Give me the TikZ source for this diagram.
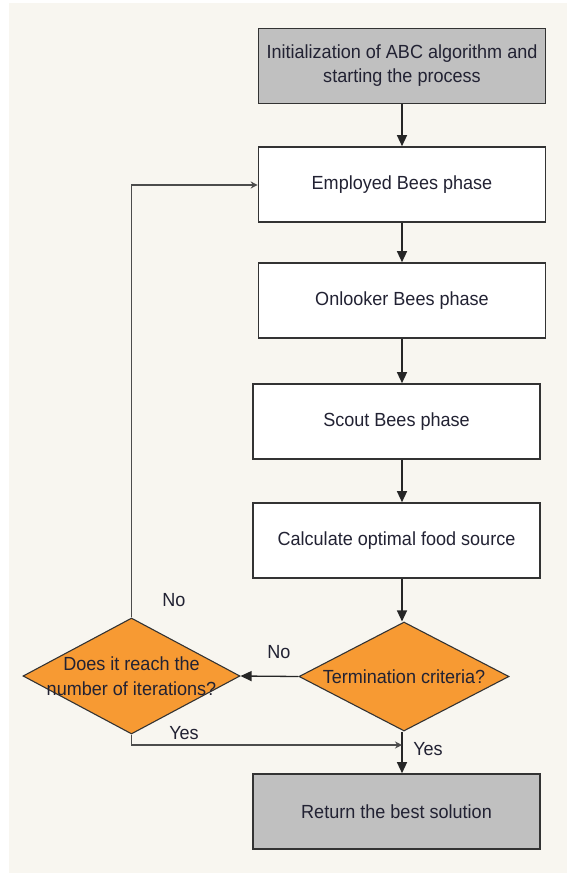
\documentclass[tikz,border=0pt]{standalone}
\usepackage{fontspec}
\setmainfont[FakeStretch=0.95]{Liberation Sans}
\usetikzlibrary{arrows.meta,shapes.geometric}
\definecolor{bgcream}{HTML}{F8F6F0}
\definecolor{boxgray}{HTML}{C0C0C0}
\definecolor{decorange}{HTML}{F79A33}
\definecolor{txtcol}{HTML}{222233}
\definecolor{edgecol}{HTML}{333333}
\tikzset{
  procbox/.style={draw=edgecol, line width=1.6pt, minimum width=287pt, minimum height=75pt, inner sep=0pt, font=\fontsize{19}{24}\selectfont, text=txtcol, align=center},
  graybox/.style={procbox, fill=boxgray},
  whitebox/.style={procbox, fill=white},
  decshape/.style={diamond, draw=edgecol, line width=1.1pt, fill=decorange, inner sep=0pt, minimum width=#1},
  dectext/.style={font=\fontsize{19}{25}\selectfont, text=txtcol, align=center, inner sep=0pt},
  flow/.style={draw=black!85, line width=1.3pt, -{Triangle[width=10pt,length=11pt]}},
  flowsmall/.style={draw=black!70, line width=1.3pt, -{Stealth[width=7pt,length=7pt]}},
  lbl/.style={font=\fontsize{19}{22}\selectfont, text=txtcol, inner sep=0pt}
}
\begin{document}
\begin{tikzpicture}[x=1pt,y=-1pt]
\useasboundingbox (0,0) rectangle (567,874);
\fill[white] (0,0) rectangle (567,874);
\fill[bgcream] (9,3) rectangle (567,873);

\node[graybox] (init) at (402,66) {Initialization of ABC algorithm and\\starting the process};
\node[whitebox] (emp) at (402,184.5) {Employed Bees phase};
\node[whitebox] (onl) at (402,300.5) {Onlooker Bees phase};
\node[whitebox] (sco) at (396.5,421.5) {Scout Bees phase};
\node[whitebox] (calc) at (396.5,540.5) {Calculate optimal food source};

\node[decshape=210pt, minimum height=109pt] (term) at (404,676.5) {};
\node[dectext] (termt) at (404,676.5) {Termination criteria?};
\node[decshape=217pt, minimum height=116pt] (ld) at (131.5,676) {};
\node[dectext] (ldt) at (131.5,676) {Does it reach the\\number of iterations?};

\node[graybox] (ret) at (396.5,811.5) {Return the best solution};

\coordinate (colx) at (402,0);
\coordinate (j) at (402,745);
\coordinate (loopc) at (131.5,185);

\draw[flow] (init.south -| colx) -- (emp.north -| colx);
\draw[flow] (emp.south -| colx) -- (onl.north -| colx);
\draw[flow] (onl.south -| colx) -- (sco.north -| colx);
\draw[flow] (sco.south -| colx) -- (calc.north -| colx);
\draw[flow] (calc.south -| colx) -- (term.north -| colx);
\draw[flow] (term.south -| colx) -- (ret.north -| colx);
\draw[flow] (term.west) -- (ld.east);
\draw[flowsmall] (ld.north) -- (loopc) -- (emp.west |- loopc);
\draw[flowsmall] (ld.south) |- (j);

\node[lbl] (no1) at (174,600) {No};
\node[lbl] (no2) at (279,652) {No};
\node[lbl] (yes1) at (184,733) {Yes};
\node[lbl] (yes2) at (428,749) {Yes};
\end{tikzpicture}
\end{document}
